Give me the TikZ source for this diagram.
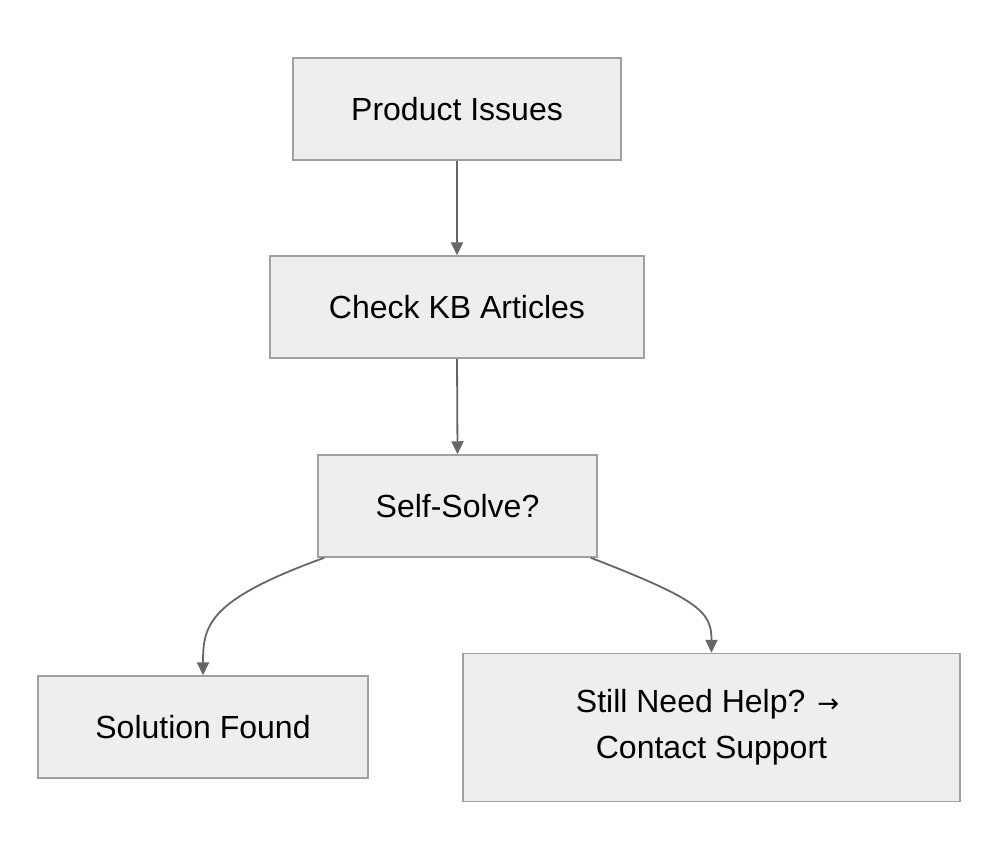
\documentclass[tikz,border=0pt]{standalone}
\usepackage{fontspec}
\setmainfont{Liberation Sans}
\newfontfamily\arrowfont{DejaVu Sans}
\usetikzlibrary{arrows.meta,calc}
\definecolor{boxfill}{HTML}{EEEEEE}
\definecolor{boxline}{HTML}{A0A0A0}
\definecolor{edgecol}{HTML}{666666}
\begin{document}
\begin{tikzpicture}[x=1pt,y=-1pt,
  box/.style={draw=boxline,fill=boxfill,line width=1.5pt,rectangle,inner sep=0pt,
    font=\fontsize{32}{46}\selectfont,text=black,align=center},
  edge/.style={draw=edgecol,line width=1.8pt,-{Triangle[length=13pt,width=12pt]}}]
\useasboundingbox (0,0) rectangle (998,860);
\fill[white] (0,0) rectangle (998,860);
\node[box,minimum width=328pt,minimum height=102pt] (p) at (457,109) {Product Issues};
\node[box,minimum width=374pt,minimum height=102pt] (k) at (457,307) {Check KB Articles};
\node[box,minimum width=279pt,minimum height=102pt] (s) at (457.5,506) {Self-Solve?};
\node[box,minimum width=330pt,minimum height=102pt] (f) at (203,727) {Solution Found};
\node[box,minimum width=497pt,minimum height=148pt] (h) at (711.5,727.5) {Still Need Help? {\arrowfont\fontsize{26}{46}\selectfont →}\hspace*{8pt}\\Contact Support};
\draw[edge] (p.south) -- (k.north);
\draw[edge] (k.south) -- (s.north);
\coordinate (sl) at ($(s.south west)+(7,0)$);
\coordinate (sr) at ($(s.south east)+(-7,0)$);
\draw[edge] (sl) .. controls (208,600) and (203,625) .. (f.north);
\draw[edge] (sr) .. controls (700,600) and (711.5,612) .. (h.north);
\end{tikzpicture}
\end{document}
